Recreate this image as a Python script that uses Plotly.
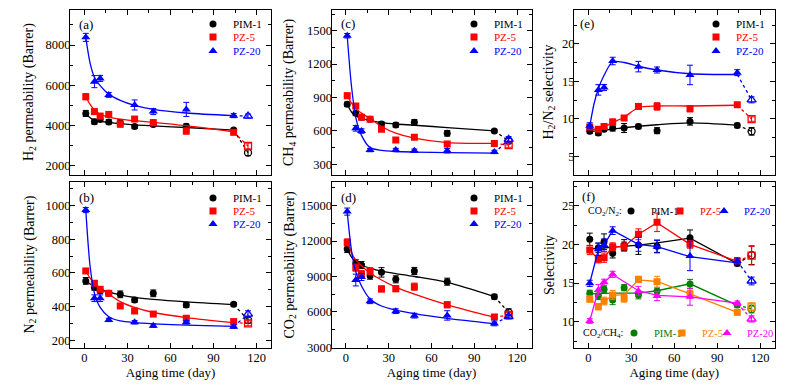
import plotly.graph_objects as go

W, H = 799, 387
FONT = "Liberation Serif, Times New Roman, serif"

# ---------------- data ----------------
DAYS = [1, 7, 11, 17, 25, 35, 48, 71, 104]
DAYS_PZ20 = [1, 7, 11, 17, 35, 48, 71, 104]
DAY_OPEN = 114
FIT_DAYS = [1, 4, 7, 11, 17, 25, 35, 48, 71, 104]
NAMES = ["PIM-1", "PZ-5", "PZ-20"]

# (a) H2 permeability
h2_pim1 = [4600, 4190, 4300, 4180, 4140, 3950, 4050, 3960, 3775]
h2_pz5 = [5430, 4690, 4470, 4550, 4070, 4320, 4140, 3725, 3660]
h2_pz20 = [8380, 6180, 6340, 5520, 5020, 4690, 4800, 4490]
h2_open = [2650, 2980, 4470]
h2_err_pim1 = [150, 120, 100, 120, 150, 100, 100, 120, 80]
h2_err_pz5 = [150, 120, 100, 120, 150, 120, 150, 150, 100]
h2_err_pz20 = [200, 300, 150, 120, 250, 150, 350, 100]
h2_err_open = [150, 150, 100]
h2_fit_pim1 = [4600, 4380, 4260, 4200, 4150, 4090, 4030, 3980, 3900, 3775]
h2_fit_pz5 = [5430, 5050, 4770, 4560, 4420, 4320, 4240, 4160, 3990, 3680]
h2_fit_pz20 = [8380, 7100, 6400, 5980, 5560, 5250, 5000, 4800, 4620, 4490]

# (b) N2 permeability
n2_pim1 = [553, 513, 495, 479, 473, 440, 479, 410, 414]
n2_pz5 = [612, 539, 503, 479, 404, 374, 356, 331, 311]
n2_pz20 = [974, 450, 450, 321, 307, 287, 307, 281]
n2_open = [321, 301, 355]
n2_err_pim1 = [20, 15, 15, 15, 20, 15, 20, 15, 10]
n2_err_pz5 = [15, 15, 15, 10, 10, 10, 10, 10, 10]
n2_err_pz20 = [15, 20, 20, 10, 10, 10, 10, 10]
n2_err_open = [20, 15, 20]
n2_fit_pim1 = [555, 535, 520, 505, 487, 470, 455, 443, 428, 412]
n2_fit_pz5 = [612, 570, 540, 510, 475, 430, 395, 365, 335, 305]
n2_fit_pz20 = [974, 640, 480, 395, 340, 315, 305, 298, 290, 282]

# (c) CH4 permeability
ch4_pim1 = [839, 758, 722, 705, 662, 653, 677, 578, 599]
ch4_pz5 = [916, 824, 722, 704, 614, 518, 542, 482, 488]
ch4_pz20 = [1455, 623, 599, 428, 428, 422, 422, 411]
ch4_open = [512, 473, 524]
ch4_err_pim1 = [20, 20, 20, 20, 20, 20, 25, 25, 15]
ch4_err_pz5 = [25, 20, 20, 15, 15, 20, 15, 15, 15]
ch4_err_pz20 = [20, 25, 20, 15, 15, 15, 20, 15]
ch4_err_open = [20, 20, 25]
ch4_fit_pim1 = [839, 770, 735, 712, 692, 675, 662, 651, 630, 600]
ch4_fit_pz5 = [916, 850, 800, 760, 710, 640, 580, 535, 495, 488]
ch4_fit_pz20 = [1455, 1000, 720, 560, 450, 425, 415, 410, 405, 400]

# (d) CO2 permeability
co2_pim1 = [11330, 10120, 9970, 9070, 9350, 8760, 9470, 8560, 7290]
co2_pz5 = [11890, 9750, 9200, 9440, 7950, 7970, 8140, 6600, 5560]
co2_pz20 = [14500, 8700, 8960, 6900, 6060, 5680, 5700, 5020]
co2_open = [5960, 5740, 5600]
co2_err_pim1 = [300, 300, 300, 300, 400, 300, 300, 300, 200]
co2_err_pz5 = [300, 300, 300, 300, 250, 250, 300, 250, 200]
co2_err_pz20 = [300, 500, 300, 200, 200, 200, 400, 200]
co2_err_open = [300, 200, 200]
co2_fit_pim1 = [11300, 10650, 10250, 9950, 9700, 9450, 9250, 9000, 8500, 7300]
co2_fit_pz5 = [11890, 11000, 10400, 9900, 9300, 8700, 8100, 7500, 6600, 5550]
co2_fit_pz20 = [14450, 11200, 9400, 8200, 7100, 6500, 6150, 5850, 5450, 5000]

# (e) H2/N2 selectivity
sel_h2n2_pim1 = [8.32, 8.10, 8.6, 8.76, 8.76, 8.98, 8.41, 9.65, 9.11]
sel_h2n2_pz5 = [8.9, 8.6, 8.98, 9.56, 10.09, 11.64, 11.64, 11.33, 11.86]
sel_h2n2_pz20 = [9.07, 13.85, 14.16, 17.70, 16.95, 16.50, 15.84, 16.15]
sel_h2n2_open = [8.32, 9.96, 12.52]
sel_h2n2_err_pim1 = [0.3, 0.3, 0.3, 0.4, 0.6, 0.3, 0.4, 0.5, 0.3]
sel_h2n2_err_pz5 = [0.3, 0.3, 0.3, 0.4, 0.3, 0.4, 0.5, 0.4, 0.3]
sel_h2n2_err_pz20 = [0.4, 0.7, 0.4, 0.5, 0.7, 0.4, 1.3, 0.4]
sel_h2n2_err_open = [0.5, 0.3, 0.4]
sel_h2n2_fit_pim1 = [8.3, 8.35, 8.4, 8.5, 8.6, 8.8, 9.0, 9.2, 9.45, 9.15]
sel_h2n2_fit_pz5 = [8.55, 8.6, 8.7, 8.9, 9.5, 10.2, 11.5, 11.7, 11.7, 11.8]
sel_h2n2_fit_pz20 = [9.0, 12.0, 14.0, 15.8, 17.6, 17.5, 17.0, 16.5, 16.0, 15.9]

# (f) CO2/N2 and CO2/CH4 selectivity
sel_co2n2_pim1 = [20.65, 19.57, 20.35, 18.84, 19.91, 19.9, 19.76, 20.86, 17.54]
sel_co2n2_pz5 = [19.27, 18.1, 18.28, 19.7, 19.7, 21.3, 22.85, 20.0, 17.85]
sel_co2n2_pz20 = [14.96, 19.35, 19.9, 21.77, 20.0, 19.7, 18.5, 17.85]
sel_co2n2_open = [18.6, 18.53, 15.26]
sel_co2n2_err_pim1 = [0.8, 0.6, 1.0, 0.6, 0.7, 1.2, 0.8, 1.0, 0.3]
sel_co2n2_err_pz5 = [0.6, 0.5, 0.6, 0.5, 0.6, 0.7, 1.2, 0.5, 0.3]
sel_co2n2_err_pz20 = [0.4, 0.8, 0.8, 0.5, 0.9, 0.8, 1.9, 0.4]
sel_co2n2_err_open = [1.2, 1.2, 0.5]
sel_co2ch4_pim1 = [13.67, 13.36, 14.2, 12.8, 14.4, 13.45, 13.97, 14.87, 12.16]
sel_co2ch4_pz5 = [12.93, 11.94, 12.67, 13.45, 13.02, 15.47, 15.17, 13.54, 11.21]
sel_co2ch4_pz20 = [10.09, 14.1, 15.09, 16.12, 13.97, 13.32, 13.23, 12.37]
sel_co2ch4_open = [11.64, 11.94, 10.35]
sel_co2ch4_err_pim1 = [0.4, 0.5, 0.4, 0.6, 0.4, 0.5, 0.4, 0.6, 0.3]
sel_co2ch4_err_pz5 = [0.4, 0.4, 0.5, 0.6, 0.5, 0.4, 0.7, 0.5, 0.3]
sel_co2ch4_err_pz20 = [0.3, 0.7, 0.4, 0.4, 0.6, 0.6, 1.1, 0.3]
sel_co2ch4_err_open = [0.5, 0.5, 0.4]
F_LINE_DAYS = [1, 17, 35, 48, 71, 104]
sel_co2n2_line_pim1 = [19.4, 19.6, 19.9, 20.2, 20.8, 17.5]
sel_co2n2_line_pz5 = [19.2, 18.1, 18.3, 19.7, 19.7, 21.3, 22.8, 20.0, 17.8]
sel_co2n2_line_pz20 = [15.0, 19.3, 19.9, 21.8, 20.0, 19.7, 18.4, 17.6]
sel_co2ch4_line_pim1 = [13.6, 13.7, 13.7, 14.0, 14.9, 12.1]
sel_co2ch4_line_pz5 = [12.9, 12.1, 12.6, 13.4, 13.5, 15.4, 15.2, 13.6, 11.2]
sel_co2ch4_line_pz20 = [10.1, 14.1, 15.1, 16.1, 14.0, 13.4, 13.2, 12.4]

# ---------------- styling ----------------
BLACK, RED, BLUE = "#000000", "#ff0000", "#0000ff"
GREEN, ORANGE, MAGENTA = "#008000", "#ff8000", "#ff00ff"
SYM = ["circle", "square", "triangle-up"]
MSIZE = [7, 7, 8]


def px_x(p):
    return p / W


def px_y(p):
    return 1 - p / H


fig = go.Figure()
legend_layouts = {}
leg_counter = [0]


def new_legend(x_px, y_px, color, size):
    leg_counter[0] += 1
    n = leg_counter[0]
    key = "legend" if n == 1 else f"legend{n}"
    legend_layouts[key] = dict(
        x=px_x(x_px - 23), y=px_y(y_px - 14.5), xanchor="left", yanchor="top",
        bgcolor="rgba(0,0,0,0)", borderwidth=0,
        font=dict(family=FONT, size=size, color=color),
        itemclick=False, itemdoubleclick=False,
    )
    return key


def add_series(xa, ya, days, vals, errs, open_val, open_err, color, sym, size,
               name, legend_pos, line_x, line_y, line_shape="spline",
               end_val=None, leg_size=11):
    fig.add_trace(go.Scatter(
        x=line_x, y=line_y, mode="lines", xaxis=xa, yaxis=ya,
        line=dict(color=color, width=1.3, shape=line_shape, smoothing=0.8),
        showlegend=False, hoverinfo="skip"))
    fig.add_trace(go.Scatter(
        x=[line_x[-1], DAY_OPEN], y=[line_y[-1] if end_val is None else end_val, open_val],
        mode="lines", xaxis=xa, yaxis=ya,
        line=dict(color=color, width=1.3, dash="dot"),
        showlegend=False, hoverinfo="skip"))
    leg = new_legend(legend_pos[0], legend_pos[1], color, leg_size)
    fig.add_trace(go.Scatter(
        x=days, y=vals, mode="markers", xaxis=xa, yaxis=ya, name=name,
        marker=dict(symbol=sym, size=size, color=color, line=dict(width=0)),
        error_y=dict(type="data", array=errs, color=color, thickness=1, width=3),
        legend=leg, showlegend=True))
    fig.add_trace(go.Scatter(
        x=[DAY_OPEN], y=[open_val], mode="markers", xaxis=xa, yaxis=ya,
        marker=dict(symbol=sym + "-open", size=size, color=color, line=dict(width=1.3, color=color)),
        error_y=dict(type="data", array=[open_err], color=color, thickness=1, width=3),
        showlegend=False))


def std_panel(xa, ya, data, errs, opens, open_errs, fits, leg_x, leg_rows):
    colors = [BLACK, RED, BLUE]
    for i in range(3):
        days = DAYS_PZ20 if i == 2 else DAYS
        add_series(xa, ya, days, data[i], errs[i], opens[i], open_errs[i],
                   colors[i], SYM[i], MSIZE[i], NAMES[i], (leg_x, leg_rows[i]),
                   FIT_DAYS, fits[i])


std_panel("x", "y", [h2_pim1, h2_pz5, h2_pz20], [h2_err_pim1, h2_err_pz5, h2_err_pz20],
          h2_open, h2_err_open, [h2_fit_pim1, h2_fit_pz5, h2_fit_pz20], 216, [24, 37, 51])
std_panel("x2", "y2", [n2_pim1, n2_pz5, n2_pz20], [n2_err_pim1, n2_err_pz5, n2_err_pz20],
          n2_open, n2_err_open, [n2_fit_pim1, n2_fit_pz5, n2_fit_pz20], 216, [198, 211, 224])
std_panel("x3", "y3", [ch4_pim1, ch4_pz5, ch4_pz20], [ch4_err_pim1, ch4_err_pz5, ch4_err_pz20],
          ch4_open, ch4_err_open, [ch4_fit_pim1, ch4_fit_pz5, ch4_fit_pz20], 477, [24, 37, 51])
std_panel("x4", "y4", [co2_pim1, co2_pz5, co2_pz20], [co2_err_pim1, co2_err_pz5, co2_err_pz20],
          co2_open, co2_err_open, [co2_fit_pim1, co2_fit_pz5, co2_fit_pz20], 477, [198, 211, 224])
std_panel("x5", "y5", [sel_h2n2_pim1, sel_h2n2_pz5, sel_h2n2_pz20],
          [sel_h2n2_err_pim1, sel_h2n2_err_pz5, sel_h2n2_err_pz20],
          sel_h2n2_open, sel_h2n2_err_open,
          [sel_h2n2_fit_pim1, sel_h2n2_fit_pz5, sel_h2n2_fit_pz20], 719, [24, 37, 51])

# panel (f)
f_sets = [
    (sel_co2n2_pim1, sel_co2n2_err_pim1, sel_co2n2_open[0], sel_co2n2_err_open[0], BLACK, 0,
     F_LINE_DAYS, sel_co2n2_line_pim1, (634, 211)),
    (sel_co2n2_pz5, sel_co2n2_err_pz5, sel_co2n2_open[1], sel_co2n2_err_open[1], RED, 1,
     DAYS, sel_co2n2_line_pz5, (683, 211)),
    (sel_co2n2_pz20, sel_co2n2_err_pz20, sel_co2n2_open[2], sel_co2n2_err_open[2], BLUE, 2,
     DAYS_PZ20, sel_co2n2_line_pz20, (727, 211)),
    (sel_co2ch4_pim1, sel_co2ch4_err_pim1, sel_co2ch4_open[0], sel_co2ch4_err_open[0], GREEN, 0,
     F_LINE_DAYS, sel_co2ch4_line_pim1, (637, 333)),
    (sel_co2ch4_pz5, sel_co2ch4_err_pz5, sel_co2ch4_open[1], sel_co2ch4_err_open[1], ORANGE, 1,
     DAYS, sel_co2ch4_line_pz5, (685, 333)),
    (sel_co2ch4_pz20, sel_co2ch4_err_pz20, sel_co2ch4_open[2], sel_co2ch4_err_open[2], MAGENTA, 2,
     DAYS_PZ20, sel_co2ch4_line_pz20, (730, 333)),
]
for vals, errs, ov, oe, col, i, lx, ly, lpos in f_sets:
    days = DAYS_PZ20 if i == 2 else DAYS
    add_series("x6", "y6", days, vals, errs, ov, oe, col, SYM[i], MSIZE[i], NAMES[i],
               lpos, lx, ly, line_shape="linear", end_val=vals[-1], leg_size=10.5)

# ---------------- axes ----------------
COLS = [(70, 271), (331.5, 531.5), (574, 774.5)]
ROWS = [(10, 175), (182, 348)]


def xdom(c):
    return [COLS[c][0] / W, COLS[c][1] / W]


def ydom(r):
    return [1 - ROWS[r][1] / H, 1 - ROWS[r][0] / H]


def xaxis(col, row, anchor):
    labels = row == 1
    ax = dict(
        domain=xdom(col), anchor=anchor, range=[-10, 130], tickvals=[0, 30, 60, 90, 120],
        ticks="inside", ticklen=5, tickwidth=1, tickcolor="black",
        minor=dict(ticks="inside", ticklen=3, dtick=15, tick0=0, tickcolor="black", tickwidth=1),
        showline=True, linecolor="black", linewidth=1, mirror="allticks",
        showgrid=False, zeroline=False, showticklabels=labels,
        tickfont=dict(family=FONT, size=12.5, color="black"),
        ticklabelstandoff=-2,
        automargin=False)
    if labels:
        ax["title"] = dict(text="Aging time (day)", font=dict(family=FONT, size=13, color="black"),
                           standoff=3)
    return ax


def yaxis(col, row, anchor, rng, tv, minor):
    return dict(
        domain=ydom(row), anchor=anchor, range=rng, tickvals=tv,
        ticks="inside", ticklen=5, tickwidth=1, tickcolor="black",
        minor=dict(ticks="inside", ticklen=3, dtick=minor, tick0=0, tickcolor="black", tickwidth=1),
        showline=True, linecolor="black", linewidth=1, mirror="allticks",
        showgrid=False, zeroline=False, exponentformat="none", separatethousands=False,
        tickformat="d",
        tickfont=dict(family=FONT, size=12.5, color="black"),
        ticklabelstandoff=-4,
        automargin=False)


layout = dict(
    width=W, height=H, margin=dict(l=0, r=0, t=0, b=0),
    paper_bgcolor="white", plot_bgcolor="white",
    font=dict(family=FONT, color="black"),
    xaxis=xaxis(0, 0, "y"), yaxis=yaxis(0, 0, "x", [1540, 9740], [2000, 4000, 6000, 8000], 1000),
    xaxis2=xaxis(0, 1, "y2"), yaxis2=yaxis(0, 1, "x2", [154, 1141], [200, 400, 600, 800, 1000], 100),
    xaxis3=xaxis(1, 0, "y3"), yaxis3=yaxis(1, 0, "x3", [204, 1686], [300, 600, 900, 1200, 1500], 150),
    xaxis4=xaxis(1, 1, "y4"), yaxis4=yaxis(1, 1, "x4", [2940, 17008], [3000, 6000, 9000, 12000, 15000], 1500),
    xaxis5=xaxis(2, 0, "y5"), yaxis5=yaxis(2, 0, "x5", [2.5, 24.5], [5, 10, 15, 20], 2.5),
    xaxis6=xaxis(2, 1, "y6"), yaxis6=yaxis(2, 1, "x6", [6.6, 28.06], [10, 15, 20, 25], 2.5),
)
layout.update(legend_layouts)
fig.update_layout(**layout)

# y-axis titles (rotated text)
ytitles = [
    ("H<sub>2</sub> permeability (Barrer)", 29.5, 0),
    ("N<sub>2</sub> permeability (Barrer)", 29.5, 1),
    ("CH<sub>4</sub> permeability (Barrer)", 289.5, 0),
    ("CO<sub>2</sub> permeability (Barrer)", 289.5, 1),
    ("H<sub>2</sub>/N<sub>2</sub> selectivity", 549, 0),
    ("Selectivity", 549, 1),
]
for t, x, r in ytitles:
    yc = (ROWS[r][0] + ROWS[r][1]) / 2
    fig.add_annotation(text=t, x=px_x(x), y=px_y(yc), xref="paper", yref="paper",
                       xanchor="center", yanchor="middle", showarrow=False, textangle=-90,
                       font=dict(family=FONT, size=14, color="black"))

# panel labels
labels = [("(a)", 77, 24), ("(b)", 77, 197), ("(c)", 339, 23), ("(d)", 339, 197),
          ("(e)", 578, 23), ("(f)", 580, 196)]
for t, x, y in labels:
    fig.add_annotation(text=t, x=px_x(x), y=px_y(y), xref="paper", yref="paper",
                       xanchor="left", yanchor="middle", showarrow=False,
                       font=dict(family=FONT, size=13, color="black"))
for t, x, y in [("CO<sub>2</sub>/N<sub>2</sub>:", 586, 211), ("CO<sub>2</sub>/CH<sub>4</sub>:", 581, 333)]:
    fig.add_annotation(text=t, x=px_x(x), y=px_y(y), xref="paper", yref="paper",
                       xanchor="left", yanchor="middle", showarrow=False,
                       font=dict(family=FONT, size=10, color="black"))

fig.write_html("out.html")
